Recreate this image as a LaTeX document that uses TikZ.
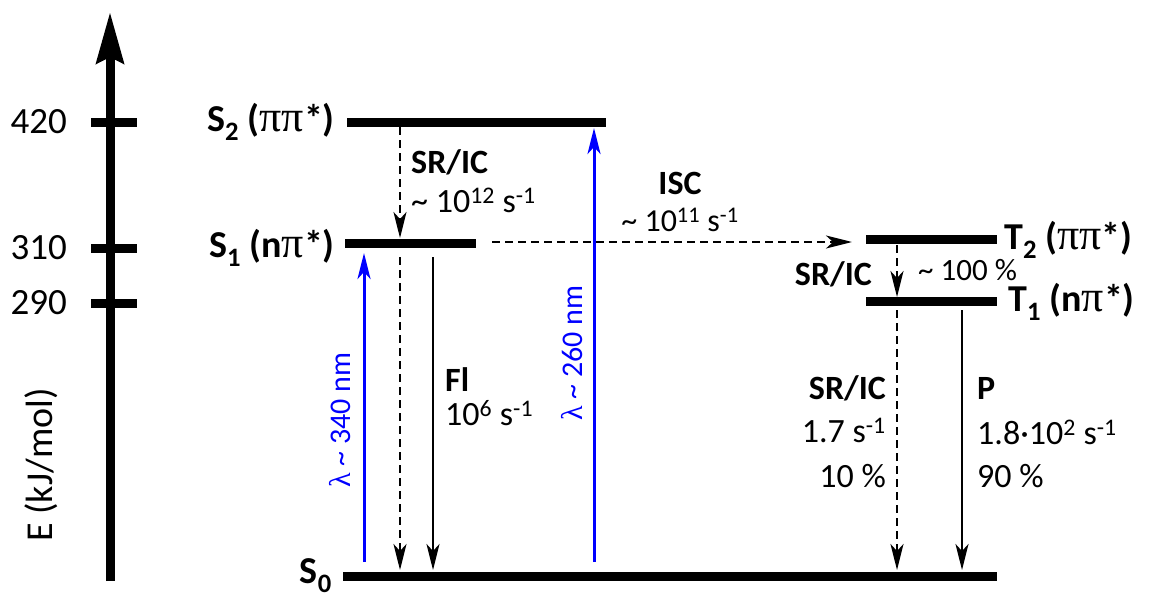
\documentclass[tikz,border=0pt]{standalone}
\usepackage{fontspec}
\setmainfont{Carlito}
\newfontfamily\grk{Liberation Serif}
\usetikzlibrary{arrows.meta}
\newcommand{\bigpi}{{\grk\mdseries\fontsize{44}{44}\selectfont π}}
\newcommand{\pipi}{\bigpi\bigpi}
\newcommand{\npi}{n\bigpi}
\begin{document}
\begin{tikzpicture}[x=1pt,y=-1pt,
  lvl/.style={line width=9pt},
  axisline/.style={line width=9pt,-{Stealth[length=51pt,width=27pt,inset=6pt]}},
  tr/.style={line width=2.5pt,-{Stealth[length=26pt,width=13pt,inset=7pt]}},
  dsh/.style={tr,dash pattern=on 8pt off 5pt},
  blu/.style={tr,blue,line width=3pt},
  lab/.style={font=\fontsize{34}{40}\selectfont, inner sep=0pt},
  axl/.style={font=\fontsize{37}{44}\selectfont, inner sep=0pt},
  blab/.style={font=\bfseries\fontsize{34}{40}\selectfont, inner sep=0pt},
  bluelab/.style={font=\fontsize{30}{36}\selectfont, inner sep=0pt, text=blue, rotate=90},
  st/.style={font=\bfseries\fontsize{38}{44}\selectfont, inner sep=0pt},
]
\useasboundingbox (0,0) rectangle (1151,594);
% axis
\coordinate (ab) at (110,581);
\coordinate (at) at (110,12);
\draw[axisline] (ab) -- (at);
\draw[lvl] (91,122) -- (137,122);
\draw[lvl] (91,248) -- (137,248);
\draw[lvl] (91,303) -- (137,303);
\node[axl,anchor=east] (t420) at (67,122) {420};
\node[axl,anchor=east] (t310) at (67,248) {310};
\node[axl,anchor=east] (t290) at (67,303) {290};
\node[axl,font=\fontsize{38}{44}\selectfont,rotate=90] (eax) at (41,465) {E (kJ/mol)};
% levels
\coordinate (s2l) at (347,122); \coordinate (s2r) at (606,122);
\coordinate (s1l) at (345,243); \coordinate (s1r) at (476,243);
\coordinate (s0l) at (343,576); \coordinate (s0r) at (997,576);
\coordinate (t2l) at (866,239); \coordinate (t2r) at (997,239);
\coordinate (t1l) at (866,301); \coordinate (t1r) at (997,301);
\draw[lvl] (s2l) -- (s2r);
\draw[lvl] (s1l) -- (s1r);
\draw[lvl] (s0l) -- (s0r);
\draw[lvl] (t2l) -- (t2r);
\draw[lvl] (t1l) -- (t1r);
% state labels
\node[st,anchor=east] (S2) at (335,122) {S\textsubscript{2} (\pipi*)};
\node[st,anchor=east] (S1) at (335,248) {S\textsubscript{1} (\npi*)};
\node[st,anchor=east] (S0) at (332,576) {S\textsubscript{0}};
\node[st,anchor=west] (T2) at (1004,240) {T\textsubscript{2} (\pipi*)};
\node[st,anchor=west] (T1) at (1008,302) {T\textsubscript{1} (\npi*)};
% S2 -> S1
\coordinate (a1) at (400,127); \coordinate (a1e) at (400,238);
\draw[dsh] (a1) -- (a1e);
\node[blab,anchor=west] (sric1) at (411,162) {SR/IC};
\node[lab,anchor=west] (k1) at (411,200) {\textasciitilde\ 10\textsuperscript{12} s\textsuperscript{-1}};
% S1 -> S0
\coordinate (a2) at (400,257); \coordinate (a2e) at (400,570);
\draw[dsh] (a2) -- (a2e);
\coordinate (f1) at (433,257); \coordinate (f1e) at (433,570);
\draw[tr] (f1) -- (f1e);
\node[blab,anchor=west] (fl) at (445,380) {Fl};
\node[lab,anchor=west] (kf) at (445,413) {10\textsuperscript{6} s\textsuperscript{-1}};
% excitation
\coordinate (b1) at (364,562); \coordinate (b1e) at (364,253);
\draw[blu] (b1) -- (b1e);
\node[bluelab] (l340) at (340,420) {{\grk λ} \textasciitilde\ 340 nm};
\coordinate (b2) at (594,562); \coordinate (b2e) at (594,128);
\draw[blu] (b2) -- (b2e);
\node[bluelab] (l260) at (572,353) {{\grk λ} \textasciitilde\ 260 nm};
% ISC
\coordinate (i1) at (492,242); \coordinate (i1e) at (852,242);
\draw[dsh] (i1) -- (i1e);
\node[blab] (isc) at (680,183) {ISC};
\node[lab,font=\fontsize{32}{38}\selectfont] (kisc) at (680,220) {\textasciitilde\ 10\textsuperscript{11} s\textsuperscript{-1}};
% T2 -> T1
\coordinate (c1) at (897,245); \coordinate (c1e) at (897,297);
\draw[dsh] (c1) -- (c1e);
\node[blab,anchor=east] (sric2) at (872,274) {SR/IC};
\node[lab,font=\fontsize{31}{36}\selectfont,anchor=west] (p100) at (918,270) {\textasciitilde\ 100 \%};
% T1 -> S0
\coordinate (d1) at (897,310); \coordinate (d1e) at (897,570);
\draw[dsh] (d1) -- (d1e);
\coordinate (p1) at (962,310); \coordinate (p1e) at (962,570);
\draw[tr] (p1) -- (p1e);
\node[blab,anchor=east] (sric3) at (886,388) {SR/IC};
\node[lab,anchor=east] (k17) at (886,430) {1.7 s\textsuperscript{-1}};
\node[lab,anchor=east] (p10) at (886,476) {10 \%};
\node[blab,anchor=west] (pp) at (977,388) {P};
\node[lab,anchor=west] (kp) at (977,432) {1.8·10\textsuperscript{2} s\textsuperscript{-1}};
\node[lab,anchor=west] (p90) at (977,476) {90 \%};
\end{tikzpicture}
\end{document}
